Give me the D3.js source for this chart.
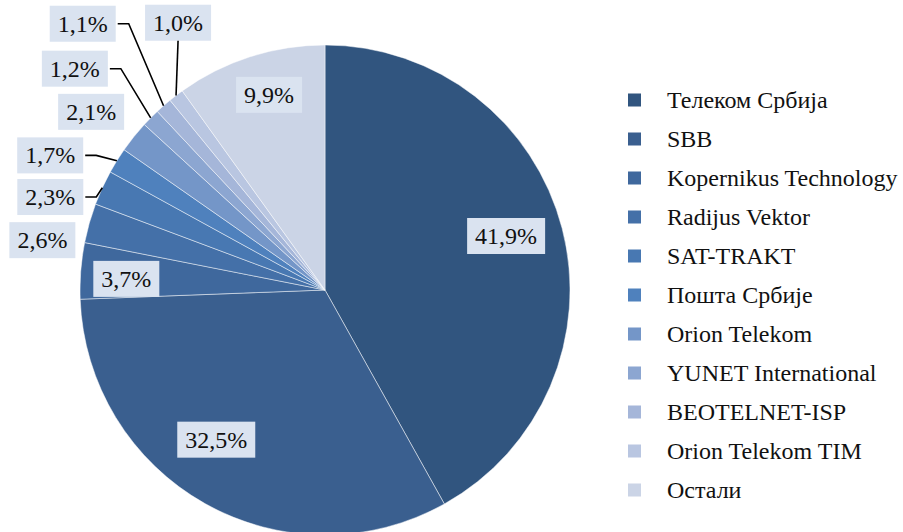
<!DOCTYPE html>
<html><head><meta charset="utf-8">
<script src="https://cdn.jsdelivr.net/npm/d3@7"></script>
<style>body{margin:0;background:#fff}svg{display:block}</style>
</head><body>
<svg id="c" width="903" height="532"></svg>
<script>
const categories = ["Телеком Србија","SBB","Kopernikus Technology","Radijus Vektor","SAT-TRAKT","Пошта Србије","Orion Telekom","YUNET International","BEOTELNET-ISP","Orion Telekom TIM","Остали"];
const values = [41.9,32.5,3.7,2.6,2.3,1.7,2.1,1.2,1.1,1.0,9.9];
const colors = ["#31557f","#3a5f8f","#3f689d","#4470a8","#4878b2","#4f81bd","#7496c8","#8ca6d1","#a5b6d9","#b9c6e1","#cbd4e6"];
// label placement (polar, degrees clockwise from 12 o'clock, px from centre) and leader style
const labelAngle = [73.4,216,273.2,280,288.7,296.1,307.3,311.5,317.7,331.2,344];
const labelRadius = [189,185,199,287,290,306,294,334,360,305,203];
const leader = [null,null,null,null,"side","side",null,"side","side","bottom",null];

const font = "'Liberation Serif', serif";
const fs = 24;
const svg = d3.select("#c");
const cx = 325, cy = 290, R = 245;
const g = svg.append("g").attr("transform",`translate(${cx},${cy})`);
const pie = d3.pie().sort(null).value(d=>d)(values);
const arc = d3.arc().innerRadius(0).outerRadius(R);
g.selectAll("path.s").data(pie).join("path").attr("class","s")
  .attr("d",arc).attr("fill",(d,i)=>colors[i])
  .attr("stroke","#ffffff").attr("stroke-opacity",0.6).attr("stroke-width",0.8);

const fmt = v => v.toFixed(1).replace(".",",")+"%";
const rad = a => a*Math.PI/180;
pie.forEach((d,i)=>{
  const lx = labelRadius[i]*Math.sin(rad(labelAngle[i]));
  const ly = -labelRadius[i]*Math.cos(rad(labelAngle[i]));
  const lg = g.append("g");
  const t = lg.append("text").attr("x",lx).attr("y",ly).attr("text-anchor","middle")
    .attr("dominant-baseline","central").attr("font-family",font).attr("font-size",fs)
    .attr("fill","#111").text(fmt(values[i]));
  const w = t.node().getComputedTextLength();
  const bw = w+16, bh = 36;
  lg.insert("rect","text").attr("x",lx-bw/2).attr("y",ly-bh/2).attr("width",bw).attr("height",bh).attr("fill","#dae3f0");
  if(leader[i]){
    const m = (d.startAngle+d.endAngle)/2;
    const px = R*Math.sin(m), py = -R*Math.cos(m);
    let pts;
    if(leader[i]==="side"){
      const sx = lx+bw/2+2;
      pts = [[sx,ly],[sx+11,ly],[px,py]];
    } else {
      pts = [[lx,ly+bh/2],[px,py]];
    }
    g.append("path").attr("d",d3.line()(pts)).attr("fill","none").attr("stroke","#000").attr("stroke-width",1.6);
  }
});

const leg = svg.append("g");
categories.forEach((c,i)=>{
  const y = 100 + i*39;
  leg.append("rect").attr("x",628).attr("y",y-6.5).attr("width",13).attr("height",13).attr("fill",colors[i]);
  leg.append("text").attr("x",667).attr("y",y).attr("dominant-baseline","central")
    .attr("font-family",font).attr("font-size",fs).attr("fill","#111").text(c);
});
</script>
</body></html>
